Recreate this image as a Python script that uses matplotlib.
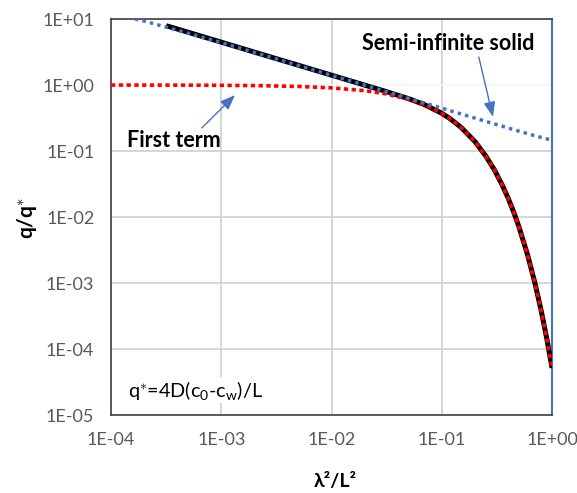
import numpy as np
import matplotlib
matplotlib.use('Agg')
import matplotlib.pyplot as plt
from matplotlib.ticker import FixedLocator, FixedFormatter

plt.rcParams['font.family'] = ['Lato', 'DejaVu Sans']
plt.rcParams['mathtext.fontset'] = 'custom'
plt.rcParams['mathtext.rm'] = 'Lato'
plt.rcParams['mathtext.it'] = 'Lato'
plt.rcParams['mathtext.bf'] = 'Lato:bold'

# full series solution (black)
x_full = [3.16e-4, 5e-4, 1e-3, 2e-3, 5e-3, 1e-2, 2e-2, 3e-2, 5e-2, 7e-2,
          0.1, 0.12, 0.15, 0.2, 0.25, 0.3, 0.35, 0.4, 0.45, 0.5,
          0.6, 0.7, 0.8, 0.9, 1.0]
y_full = [7.93, 6.31, 4.46, 3.15, 1.995, 1.411, 0.997, 0.814, 0.622, 0.503,
          0.373, 0.306, 0.2275, 0.1389, 0.0848, 0.0518, 0.0316, 0.0193, 0.01178, 0.00719,
          0.00268, 0.000999, 0.000372, 0.000139, 5.17e-5]

# first term only (red)
x_first = [1e-4, 2e-4, 5e-4, 1e-3, 2e-3, 5e-3, 1e-2, 2e-2, 3e-2, 5e-2,
           7e-2, 0.1, 0.12, 0.15, 0.2, 0.25, 0.3, 0.35, 0.4, 0.45,
           0.5, 0.6, 0.7, 0.8, 0.9, 1.0]
y_first = [0.999, 0.998, 0.995, 0.990, 0.981, 0.952, 0.906, 0.821, 0.744, 0.611,
           0.501, 0.373, 0.306, 0.2275, 0.1389, 0.0848, 0.0518, 0.0316, 0.0193, 0.01178,
           0.00719, 0.00268, 0.000999, 0.000372, 0.000139, 5.17e-5]

# semi-infinite solid (blue)
x_semi = [1.65e-4, 2e-4, 5e-4, 1e-3, 2e-3, 5e-3, 1e-2, 2e-2, 5e-2, 0.1,
          0.2, 0.3, 0.5, 0.7, 1.0]
y_semi = [10.0, 9.3, 6.1, 4.4, 3.12, 1.98, 1.405, 0.995, 0.631, 0.446,
          0.315, 0.2575, 0.2, 0.17, 0.146]

x_ticks = [1e-4, 1e-3, 1e-2, 1e-1, 1e0]
x_tick_labels = ['1E-04', '1E-03', '1E-02', '1E-01', '1E+00']
y_ticks = [1e-5, 1e-4, 1e-3, 1e-2, 1e-1, 1e0, 1e1]
y_tick_labels = ['1E-05', '1E-04', '1E-03', '1E-02', '1E-01', '1E+00', '1E+01']

BLUE = '#4472C4'
GRAY = '#595959'

fig = plt.figure(figsize=(5.77, 4.93), dpi=100)
ax = fig.add_axes([0.1924, 0.1582, 0.7643, 0.8032])
ax.set_xscale('log'); ax.set_yscale('log')
ax.set_xlim(1e-4, 1e0); ax.set_ylim(1e-5, 1e1)

ax.xaxis.set_major_locator(FixedLocator(x_ticks))
ax.xaxis.set_major_formatter(FixedFormatter(x_tick_labels))
ax.yaxis.set_major_locator(FixedLocator(y_ticks))
ax.yaxis.set_major_formatter(FixedFormatter(y_tick_labels))
ax.minorticks_off()
ax.tick_params(axis='both', length=0, labelsize=13, labelcolor=GRAY)
ax.tick_params(axis='x', pad=12)
ax.tick_params(axis='y', pad=12)

ax.grid(True, color='#D0D0D0', lw=1.2, zorder=0)
ax.set_axisbelow(True)
ax.axhline(1.0, color='white', lw=1.2, zorder=1.5)

for s in ('left', 'bottom', 'top'):
    ax.spines[s].set_color('#404040')
    ax.spines[s].set_linewidth(1.2)
ax.spines['right'].set_color(BLUE)
ax.spines['right'].set_linewidth(1.5)

ax.plot(x_full, y_full, color='black', lw=3.6, solid_capstyle='butt', zorder=3)
ax.plot(x_first, y_first, color='#FF0000', lw=2.6, dashes=(1.2, 0.95),
        dash_capstyle='butt', zorder=4)
ax.plot(x_semi, y_semi, color=BLUE, lw=2.5, dashes=(1.0, 1.2),
        dash_capstyle='butt', zorder=5)

ax.text(0.036, 0.694, 'First term', transform=ax.transAxes, fontsize=15.5,
        fontweight='bold', va='center', ha='left', zorder=6)
ax.annotate('', xy=(0.281, 0.808), xytext=(0.206, 0.725),
            xycoords='axes fraction', textcoords='axes fraction',
            arrowprops=dict(arrowstyle='-|>,head_length=0.9,head_width=0.35',
                            color=BLUE, lw=1.0, shrinkA=0, shrinkB=0), zorder=6)

ax.text(0.569, 0.939, 'Semi-infinite solid', transform=ax.transAxes, fontsize=15.5,
        fontweight='bold', va='center', ha='left', zorder=6)
ax.annotate('', xy=(0.866, 0.753), xytext=(0.834, 0.904),
            xycoords='axes fraction', textcoords='axes fraction',
            arrowprops=dict(arrowstyle='-|>,head_length=0.9,head_width=0.35',
                            color=BLUE, lw=1.0, shrinkA=0, shrinkB=0), zorder=6)

ax.text(0.0385, 0.063, r'q$^{\ast}$=4D(c$_{0}$-c$_{w}$)/L', transform=ax.transAxes,
        fontsize=14.3, va='center', ha='left', zorder=6,
        bbox=dict(facecolor='white', edgecolor='none', pad=1))

fig.text(335 / 577, 1 - 482 / 493, 'λ²/L²', fontsize=14, fontweight='bold',
         ha='center', va='center')
fig.text(27 / 577, 1 - 218 / 493, r'q/q$^{\ast}$', fontsize=15, fontweight='bold',
         ha='center', va='center', rotation=90)

fig.savefig('out.png', dpi=100)
